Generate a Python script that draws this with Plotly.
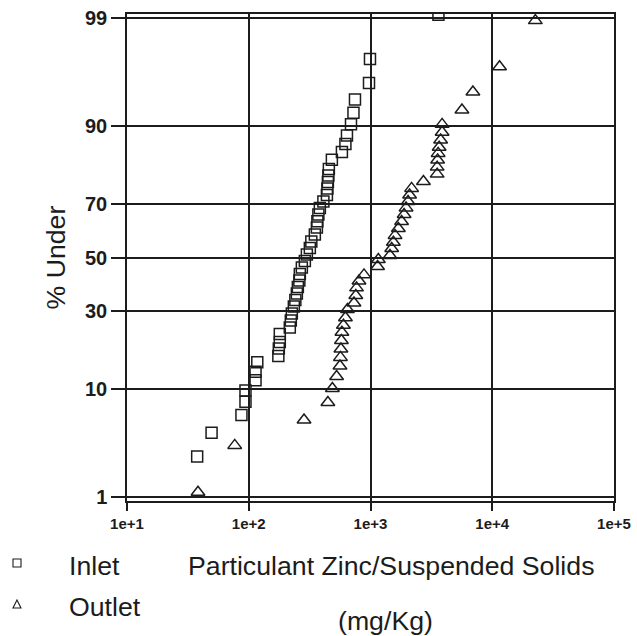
import plotly.graph_objects as go
from statistics import NormalDist

# Particulate zinc per unit suspended solids (mg/Kg) and the cumulative
# percentage of samples at or below each value.
inlet_conc = [37.7, 49.5, 87.1, 94.0, 94.0, 113.7, 113.7, 117.5, 175.0, 176.6,
              179.9, 179.9, 217.3, 221.6, 225.9, 234.6, 241.4, 248.4, 253.1, 260.4,
              262.8, 273.0, 289.0, 300.1, 317.5, 326.5, 349.1, 362.8, 366.2, 373.2,
              383.8, 410.2, 438.5, 442.6, 446.7, 450.8, 455.0, 481.6, 582.3, 622.3,
              640.7, 691.5, 724.7, 745.6, 972.2, 990.3, 3614.0]
inlet_pct = [2.67, 4.44, 6.29, 8.06, 9.83, 11.68, 13.35, 15.46, 16.95, 18.86,
             20.6, 22.9, 24.8, 27.0, 29.3, 31.7, 34.0, 36.3, 38.7, 41.2,
             43.6, 46.1, 48.6, 51.2, 53.7, 56.2, 58.8, 61.5, 63.8, 66.2,
             68.5, 70.7, 72.8, 74.9, 76.8, 78.7, 80.5, 82.9, 84.7, 86.5,
             88.2, 90.2, 92.0, 93.75, 95.5, 97.3, 99.08]

outlet_conc = [38.3, 76.7, 284.5, 446.7, 486.3, 526.7, 561.4, 566.4, 571.6, 576.9,
               582.3, 599.2, 622.3, 646.5, 731.5, 757.5, 767.9, 804.4, 884.2, 1143,
               1160, 1445, 1493, 1541, 1591, 1694, 1800, 1888, 1959, 2035,
               2094, 2175, 2721, 3527, 3527, 3559, 3594, 3662, 3767, 3874,
               3874, 5637, 6937, 11480, 22590]
outlet_pct = [1.13, 3.40, 5.73, 7.96, 10.17, 12.40, 14.6, 16.6, 18.7, 21.0,
              23.4, 25.5, 27.9, 30.7, 32.9, 35.6, 38.4, 41.0, 43.3, 46.5,
              49.2, 50.8, 53.5, 55.9, 58.5, 61.1, 63.7, 66.2, 68.5, 70.7,
              72.8, 74.9, 77.0, 79.1, 81.0, 82.8, 84.4, 85.8, 87.3, 88.8,
              90.2, 92.4, 94.6, 96.8, 98.93]

series_names = ["Inlet", "Outlet"]
pct_ticks = [1, 10, 30, 50, 70, 90, 99]
x_tick_vals = [10, 100, 1000, 10000, 100000]
x_tick_text = ["1e+1", "1e+2", "1e+3", "1e+4", "1e+5"]

nd = NormalDist()


def probit(values):
    """Map cumulative percentages onto the normal-probability scale."""
    return [nd.inv_cdf(v / 100.0) for v in values]


INK = "#1c1c1c"
FONT = "Liberation Sans, Arial, Helvetica, sans-serif"
TEXT_SIZE = 26.7

# plot area in pixels: left 127, width 487; top 14, height 487
L, T, W, H = 127, 14, 487, 487


def px_x(p):
    return (p - L) / W


def px_y(p):
    return (T + H - p) / H


fig = go.Figure()
fig.add_trace(go.Scatter(
    x=inlet_conc, y=probit(inlet_pct), mode="markers", name=series_names[0],
    marker=dict(symbol="square-open", size=11, color=INK, line=dict(width=1.5, color=INK)),
))
fig.add_trace(go.Scatter(
    x=outlet_conc, y=probit(outlet_pct), mode="markers", name=series_names[1],
    marker=dict(symbol="triangle-up-open", size=12, color=INK, line=dict(width=1.5, color=INK)),
))

# hand-placed key below the axes: small outline glyphs with labels
key_shapes = [
    dict(type="rect", xref="paper", yref="paper",
         x0=px_x(13), x1=px_x(21), y0=px_y(567), y1=px_y(559),
         line=dict(color=INK, width=1.1), fillcolor="rgba(0,0,0,0)"),
    dict(type="path", xref="paper", yref="paper",
         path="M {:.4f} {:.4f} L {:.4f} {:.4f} L {:.4f} {:.4f} Z".format(
             px_x(13), px_y(608), px_x(21), px_y(608), px_x(17), px_y(600)),
         line=dict(color=INK, width=1.1), fillcolor="rgba(0,0,0,0)"),
]
key_labels = [
    dict(text=series_names[0], xref="paper", yref="paper",
         x=px_x(67), y=px_y(566), xanchor="left", yanchor="middle", showarrow=False,
         font=dict(size=TEXT_SIZE, family=FONT, color=INK)),
    dict(text=series_names[1], xref="paper", yref="paper",
         x=px_x(67), y=px_y(607), xanchor="left", yanchor="middle", showarrow=False,
         font=dict(size=TEXT_SIZE, family=FONT, color=INK)),
]

z_edge = 2.365

fig.update_layout(
    width=637, height=636,
    margin=dict(l=L, r=637 - L - W, t=T, b=636 - T - H, autoexpand=False),
    paper_bgcolor="white", plot_bgcolor="white",
    font=dict(family=FONT, color=INK),
    showlegend=False,
    xaxis=dict(
        type="log", range=[1, 5], automargin=False,
        tickvals=x_tick_vals, ticktext=x_tick_text,
        ticks="outside", ticklen=8, tickwidth=1.5, tickcolor=INK,
        tickfont=dict(size=15, family=FONT, color=INK, weight="bold"),
        showgrid=True, gridcolor=INK, gridwidth=1.6,
        showline=True, linecolor=INK, linewidth=1.5, mirror=True,
        zeroline=False,
    ),
    yaxis=dict(
        range=[-z_edge, z_edge], automargin=False,
        tickvals=probit(pct_ticks), ticktext=[str(t) for t in pct_ticks],
        ticks="outside", ticklen=14, tickwidth=1.5, tickcolor=INK,
        tickfont=dict(size=20, family=FONT, color=INK, weight="bold"),
        showgrid=True, gridcolor=INK, gridwidth=1.6,
        showline=True, linecolor=INK, linewidth=1.5, mirror=True,
        zeroline=False,
    ),
    shapes=key_shapes,
    annotations=key_labels + [
        dict(text="% Under", textangle=-90, xref="paper", yref="paper",
             x=px_x(55), y=0.5, xanchor="center", yanchor="middle", showarrow=False,
             font=dict(size=TEXT_SIZE, family=FONT, color=INK)),
        dict(text="Particulant Zinc/Suspended Solids", xref="paper", yref="paper",
             x=px_x(391), y=px_y(566), xanchor="center", yanchor="middle", showarrow=False,
             font=dict(size=TEXT_SIZE, family=FONT, color=INK)),
        dict(text="(mg/Kg)", xref="paper", yref="paper",
             x=px_x(385), y=px_y(621), xanchor="center", yanchor="middle", showarrow=False,
             font=dict(size=TEXT_SIZE, family=FONT, color=INK)),
    ],
)

fig.write_html("out.html")
